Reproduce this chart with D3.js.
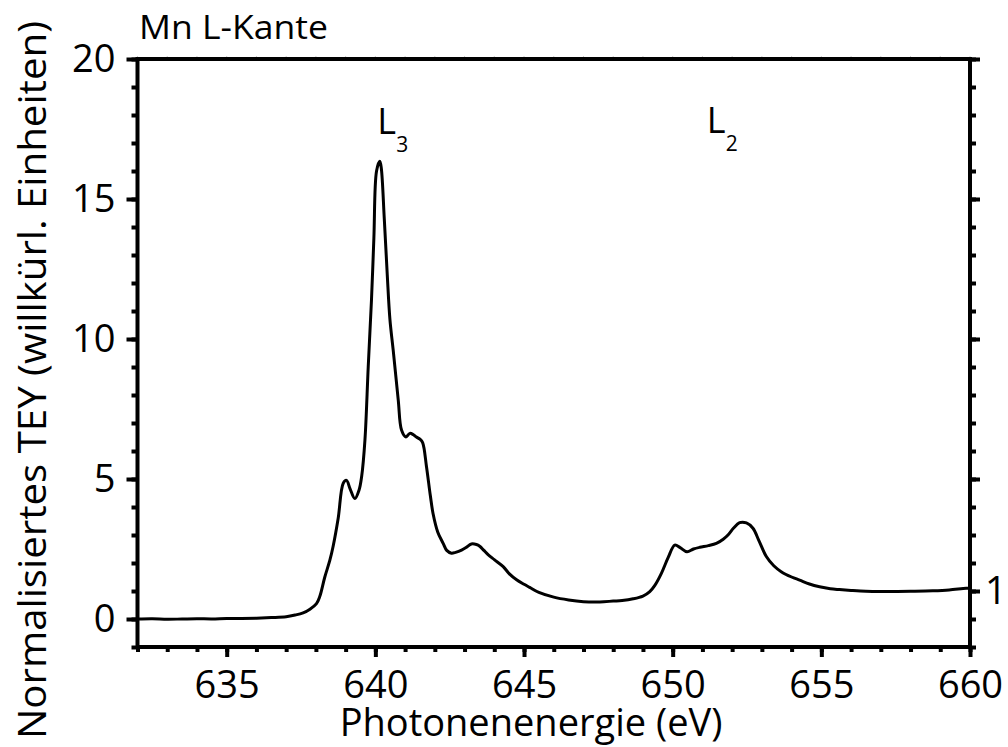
<!DOCTYPE html>
<html><head><meta charset="utf-8">
<script src="https://cdn.jsdelivr.net/npm/d3@7"></script>
<style>
body{margin:0;background:#fff}
svg{display:block}
text{font-family:"Open Sans",sans-serif;fill:#000}
</style>
</head><body>
<svg id="c" width="1008" height="747"></svg>
<script>
// ---- data ----
const energy = [632,632.5,633,633.5,634,634.5,635,635.5,636,636.5,637,637.3,637.57,637.8,638.02,638.13,638.3,638.47,638.58,638.75,638.92,639.03,639.15,639.31,639.45,639.54,639.65,639.76,639.87,639.95,640.04,640.15,640.2,640.3,640.4,640.49,640.6,640.77,640.88,641.03,641.16,641.28,641.38,641.5,641.59,641.72,641.85,641.94,642.1,642.28,642.4,642.56,642.7,642.9,643.05,643.23,643.4,643.51,643.65,643.79,644.0,644.3,644.5,644.75,645.0,645.19,645.5,646.0,646.5,647.0,647.55,648.0,648.3,648.67,649.0,649.23,649.4,649.62,649.85,650.07,650.25,650.48,650.7,650.91,651.2,651.47,651.7,651.86,652.05,652.25,652.48,652.7,652.9,653.15,653.4,653.65,654.0,654.27,654.6,654.94,655.3,655.61,656.0,656.5,657.07,657.5,658.0,658.75,659.3,659.87,660];
const tey = [0.00,0.01,-0.01,0.00,0.01,0.00,0.02,0.02,0.03,0.05,0.08,0.14,0.22,0.35,0.55,0.8,1.5,2.1,2.6,3.6,4.85,4.95,4.65,4.3,4.6,5.1,6.4,9.0,11.4,13.6,16.0,16.35,16.1,14.3,12.3,10.7,9.6,7.82,6.75,6.5,6.63,6.58,6.5,6.42,6.3,5.44,4.4,3.77,3.1,2.7,2.45,2.35,2.38,2.46,2.55,2.68,2.66,2.6,2.45,2.3,2.12,1.87,1.62,1.4,1.24,1.13,0.95,0.78,0.68,0.62,0.61,0.64,0.66,0.72,0.82,0.98,1.2,1.63,2.2,2.64,2.55,2.4,2.5,2.56,2.62,2.7,2.85,3.0,3.25,3.44,3.43,3.24,2.8,2.23,1.9,1.69,1.5,1.39,1.25,1.15,1.08,1.05,1.02,0.99,0.98,0.98,0.99,1.01,1.04,1.1,1.1];

const xDomain = [632, 660];
const yDomain = [-1, 20];
const xMajorTicks = [635, 640, 645, 650, 655, 660];
const xMinorTicks = d3.range(632, 661, 1);
const yMajorTicks = [0, 5, 10, 15, 20];
const yMinorTicks = d3.range(-1, 21, 1);
const rightMajorTicks = [1, 5, 10, 15, 20];
const rightTickLabels = [{v: 1, t: "1"}];
const peakLabels = [{e: 640.06, v: 17.32, main: "L", sub: "3"}, {e: 651.15, v: 17.36, main: "L", sub: "2"}];
const title = "Mn L-Kante";
const xTitle = "Photonenenergie (eV)";
const yTitle = "Normalisiertes TEY (willkürl. Einheiten)";

// ---- drawing ----
const svg = d3.select("#c");
const x = d3.scaleLinear().domain(xDomain).range([137.5, 970]);
const y = d3.scaleLinear().domain(yDomain).range([647, 59]);
const AX = 4;

function styleAxis(g) {
  g.select(".domain").remove();
  g.selectAll(".tick line").attr("stroke", "#000").attr("stroke-width", AX);
  g.selectAll(".tick text").style("font-size", "38px").attr("fill", "#000");
}

// faint top ticks
svg.append("g").selectAll("line").data(xMinorTicks).join("line")
  .attr("x1", d => x(d)).attr("x2", d => x(d))
  .attr("y1", y(20) - 3).attr("y2", y(20))
  .attr("stroke", "#ccc").attr("stroke-width", 1);

// bottom axis
svg.append("g").attr("transform", `translate(0,${y(-1)})`)
  .call(d3.axisBottom(x).tickValues(xMinorTicks).tickSize(5).tickFormat(""))
  .call(styleAxis);
svg.append("g").attr("transform", `translate(0,${y(-1)})`)
  .call(d3.axisBottom(x).tickValues(xMajorTicks).tickSize(10).tickPadding(14).tickFormat(d3.format("d")))
  .call(styleAxis);

// left axis
svg.append("g").attr("transform", `translate(${x(632)},0)`)
  .call(d3.axisLeft(y).tickValues(yMinorTicks).tickSize(6).tickFormat(""))
  .call(styleAxis);
svg.append("g").attr("transform", `translate(${x(632)},0)`)
  .call(d3.axisLeft(y).tickValues(yMajorTicks).tickSize(11).tickPadding(11).tickFormat(d3.format("d")))
  .call(styleAxis);

// right axis
svg.append("g").attr("transform", `translate(${x(660)},0)`)
  .call(d3.axisRight(y).tickValues(yMinorTicks).tickSize(6).tickFormat(""))
  .call(styleAxis);
svg.append("g").attr("transform", `translate(${x(660)},0)`)
  .call(d3.axisRight(y).tickValues(rightMajorTicks).tickSize(10).tickFormat(""))
  .call(styleAxis);
svg.append("g").selectAll("text").data(rightTickLabels).join("text")
  .attr("x", x(660) + 15).attr("y", d => y(d.v)).attr("dy", "0.35em")
  .style("font-size", "38px").text(d => d.t);

// frame
svg.append("rect")
  .attr("x", x(632)).attr("y", y(20))
  .attr("width", x(660) - x(632)).attr("height", y(-1) - y(20))
  .attr("fill", "none").attr("stroke", "#000").attr("stroke-width", AX);

// curve
const pts = energy.map((e, i) => [e, tey[i]]);
svg.append("path").datum(pts)
  .attr("fill", "none").attr("stroke", "#000").attr("stroke-width", 3)
  .attr("stroke-linejoin", "round")
  .attr("d", d3.line().x(d => x(d[0])).y(d => y(d[1])).curve(d3.curveCatmullRom.alpha(0.5)));

// peak labels
const pl = svg.append("g").selectAll("g").data(peakLabels).join("g");
pl.append("text").attr("x", d => x(d.e)).attr("y", d => y(d.v))
  .style("font-size", "36px").text(d => d.main);
pl.append("text").attr("x", d => x(d.e) + 19).attr("y", d => y(d.v) + 18)
  .style("font-size", "21px").text(d => d.sub);

// titles
svg.append("text").attr("x", 139).attr("y", 39)
  .style("font-size", "33px").attr("textLength", 189).attr("lengthAdjust", "spacingAndGlyphs")
  .text(title);
svg.append("text").attr("x", 531).attr("y", 736).attr("text-anchor", "middle")
  .style("font-size", "38px").text(xTitle);
svg.append("text").attr("transform", "translate(46,380) rotate(-90)").attr("text-anchor", "middle")
  .style("font-size", "38px").attr("textLength", 718).attr("lengthAdjust", "spacingAndGlyphs")
  .text(yTitle);
</script>
</body></html>
